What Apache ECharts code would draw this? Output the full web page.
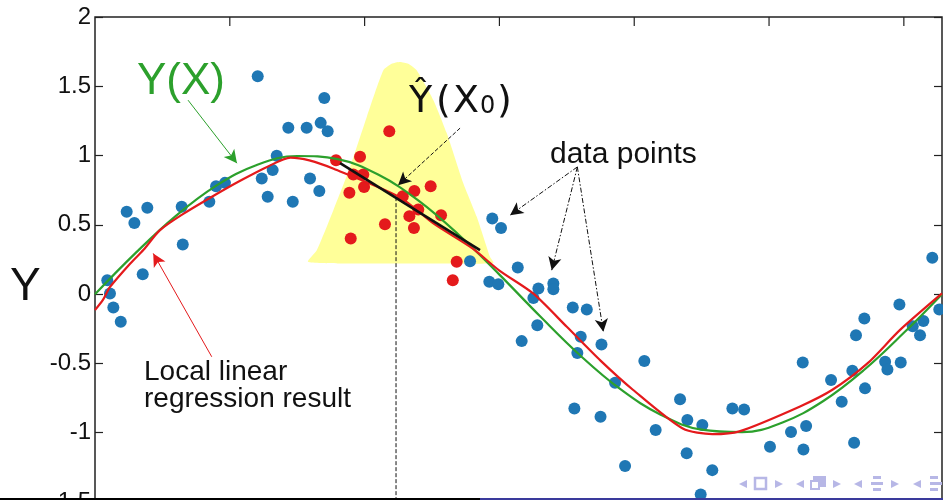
<!DOCTYPE html>
<html>
<head>
<meta charset="utf-8">
<style>html,body{margin:0;padding:0;background:#fff}#c{width:943px;height:500px}</style>
<script src="https://cdn.jsdelivr.net/npm/echarts/dist/echarts.min.js"></script>
</head>
<body>
<div id="c"></div>
<script>
// ---- data ----
const yTicks = [-1.5, -1, -0.5, 0, 0.5, 1, 1.5, 2];
const xTicks = [1, 2, 3, 4, 5, 6];

const bluePoints = [
  [0.091,0.101],[0.111,0.005],[0.136,-0.096],[0.191,-0.200],[0.235,0.594],[0.292,0.514],
  [0.354,0.144],[0.388,0.623],[0.643,0.630],[0.651,0.359],[0.848,0.666],[0.898,0.779],
  [0.964,0.803],[1.207,1.573],[1.237,0.835],[1.281,0.702],[1.318,0.895],[1.348,0.998],
  [1.434,1.200],[1.467,0.666],[1.570,1.200],[1.595,0.835],[1.664,0.745],[1.674,1.236],
  [1.701,1.416],[1.726,1.176],[2.782,0.238],[2.947,0.546],[3.012,0.478],[2.925,0.089],
  [2.992,0.072],[3.136,0.193],[3.289,0.041],[3.252,-0.027],[3.400,0.077],[3.400,0.036],
  [3.544,-0.096],[3.648,-0.110],[3.281,-0.224],[3.165,-0.339],[3.603,-0.308],[3.757,-0.363],
  [3.578,-0.424],[3.858,-0.640],[3.556,-0.825],[3.750,-0.885],[4.075,-0.483],[4.340,-0.758],
  [4.159,-0.981],[3.932,-1.241],[4.394,-0.909],[4.505,-0.945],[4.389,-1.149],[4.579,-1.270],
  [4.493,-1.445],[4.728,-0.825],[4.815,-0.832],[5.007,-1.102],[5.163,-0.994],[5.255,-1.121],
  [5.275,-0.952],[5.250,-0.493],[5.460,-0.620],[5.539,-0.777],[5.618,-0.553],[5.631,-1.073],
  [5.712,-0.680],[5.645,-0.296],[5.707,-0.175],[5.861,-0.488],[5.878,-0.543],[5.977,-0.493],
  [5.967,-0.074],[6.066,-0.231],[6.120,-0.296],[6.145,-0.193],[6.211,0.262],[6.263,-0.110]
];

const redPoints = [
  [1.788,0.967],[1.966,0.991],[2.183,1.176],[1.916,0.864],[1.990,0.864],[1.996,0.774],
  [1.887,0.731],[2.369,0.745],[2.490,0.779],[2.283,0.707],[2.398,0.611],[2.332,0.563],
  [2.567,0.570],[2.366,0.478],[2.151,0.505],[1.897,0.402],[2.683,0.233],[2.654,0.101]
];

// true function Y(X)
const greenX = [0,0.3,0.6,0.9,1.2,1.5,1.8,2.1,2.4,2.7,3.0,3.3,3.6,3.9,4.2,4.5,4.8,5.1,5.4,5.7,6.0,6.283];
const greenY = [0,0.296,0.565,0.783,0.932,0.997,0.974,0.863,0.675,0.427,0.141,-0.158,-0.443,-0.688,-0.872,-0.978,-0.996,-0.926,-0.773,-0.551,-0.279,0];

// local linear regression result
const redX = [0,0.06,0.11,0.26,0.36,0.48,0.64,0.88,1.08,1.28,1.45,1.59,1.77,2.26,2.51,2.80,3.00,3.25,3.50,3.75,3.99,4.36,4.58,4.78,5.23,5.47,5.73,5.97,6.283];
const redY = [-0.115,-0.04,0.05,0.22,0.32,0.46,0.57,0.71,0.82,0.92,0.985,0.965,0.905,0.70,0.51,0.33,0.17,0.005,-0.236,-0.48,-0.69,-0.97,-1.01,-0.99,-0.81,-0.69,-0.50,-0.26,0.005];

// kernel weight shape around X0
const kernelX = [1.580,1.645,1.768,1.892,2.016,2.139,2.200,2.263,2.324,2.386,2.510,2.609,2.732,2.832,2.930,2.955,2.70,2.40,2.10,1.80];
const kernelY = [0.233,0.317,0.606,0.918,1.279,1.616,1.663,1.676,1.663,1.616,1.400,1.162,0.801,0.558,0.269,0.224,0.222,0.222,0.222,0.222];

// local fit line at X0 and the X0 marker
const localFit = [[1.818,0.945],[2.856,0.318]];
const x0Line = [[2.233,0.70],[2.233,-1.6]];

// annotation arrows [from, to]
const arrowGreen = [[0.690,1.400],[1.053,0.945]];
const arrowRed = [[0.866,-0.452],[0.432,0.294]];
const arrowHat = [[2.708,1.198],[2.248,0.786]];
const arrowsData = [
  [[3.578,0.918],[3.079,0.570]],
  [[3.578,0.918],[3.388,0.173]],
  [[3.578,0.918],[3.771,-0.272]]
];

const zip = (xs, ys) => xs.map((x, i) => [x, ys[i]]);

const chart = echarts.init(document.getElementById('c'), null, {renderer: 'canvas'});
const FONT = '"Liberation Sans", Arial, sans-serif';
const axisCol = '#222';

function arrowLine(pair, style) {
  return [{coord: pair[0], lineStyle: style}, {coord: pair[1]}];
}

const navCol = '#b7b7e6';
function navTri(x, y, dir) {
  const s = 4;
  const pts = dir < 0 ? [[x + s, y - s], [x + s, y + s], [x - s, y]] : [[x - s, y - s], [x - s, y + s], [x + s, y]];
  return {type: 'polygon', shape: {points: pts}, style: {fill: navCol}, silent: true};
}

const option = {
  animation: false,
  backgroundColor: '#fff',
  grid: {left: 95, right: 1, top: 17, bottom: -2, containLabel: false, outerBoundsMode: 'none',
    show: true, borderColor: axisCol, borderWidth: 1.5, backgroundColor: 'transparent'},
  xAxis: [{
    type: 'value', min: 0, max: 6.283, interval: 1, position: 'top',
    axisLine: {show: false, onZero: false},
    axisTick: {show: false},
    axisLabel: {show: false}, splitLine: {show: false}
  }],
  yAxis: [{
    type: 'value', min: -1.5, max: 2, interval: 0.5, position: 'left',
    axisLine: {show: false, onZero: false},
    axisTick: {show: true, inside: true, length: 8, lineStyle: {color: axisCol, width: 1.2}},
    axisLabel: {show: true, margin: 4, fontSize: 24, fontFamily: FONT, color: '#111',
      formatter: v => (yTicks.indexOf(v) >= 0 ? String(v) : '')},
    splitLine: {show: false}
  }, {
    type: 'value', min: -1.5, max: 2, interval: 0.5, position: 'right',
    axisLine: {show: false, onZero: false},
    axisTick: {show: true, inside: true, length: 8, lineStyle: {color: axisCol, width: 1.2}},
    axisLabel: {show: false}, splitLine: {show: false}
  }],
  series: [
    {
      name: 'kernel', type: 'custom', z: 1, silent: true,
      data: [[kernelX[0], kernelY[0]]],
      renderItem: function (params, api) {
        const pts = kernelX.map((x, i) => api.coord([x, kernelY[i]]));
        return {type: 'polygon', shape: {points: pts, smooth: 0.2}, style: {fill: '#ffff99', stroke: 'none'}};
      }
    },
    {
      name: 'topTicks', type: 'custom', z: 6, silent: true, clip: false,
      data: xTicks.map(v => [v, 2]),
      renderItem: function (params, api) {
        const p = api.coord([api.value(0), api.value(1)]);
        return {type: 'line', shape: {x1: p[0], y1: p[1], x2: p[0], y2: p[1] + 9},
          style: {stroke: axisCol, lineWidth: 1.2}};
      }
    },
    {
      name: 'data', type: 'scatter', z: 2, symbolSize: 12, silent: true,
      itemStyle: {color: '#1f77b4', opacity: 1},
      data: bluePoints
    },
    {
      name: 'local', type: 'scatter', z: 2, symbolSize: 12, silent: true,
      itemStyle: {color: '#e41a1c', opacity: 1},
      data: redPoints
    },
    {
      name: 'Y(X)', type: 'line', z: 3, smooth: 0.4, symbol: 'none', silent: true,
      lineStyle: {color: '#2ca02c', width: 2.2},
      data: zip(greenX, greenY)
    },
    {
      name: 'fit', type: 'line', z: 4, smooth: 0.25, symbol: 'none', silent: true,
      lineStyle: {color: '#e41a1c', width: 2.2},
      data: zip(redX, redY)
    },
    {
      name: 'localFit', type: 'line', z: 5, symbol: 'none', silent: true,
      lineStyle: {color: '#111', width: 2.6},
      data: localFit
    },
    {
      name: 'x0', type: 'line', z: 5, symbol: 'none', silent: true,
      lineStyle: {color: '#111', width: 1, type: [4, 2]},
      data: x0Line,
      markLine: {
        silent: true, animation: false,
        symbol: ['none', 'arrow'], symbolSize: [10, 13],
        label: {show: false},
        emphasis: {disabled: true},
        data: [
          arrowLine(arrowGreen, {color: '#2ca02c', width: 1, type: 'solid'}),
          arrowLine(arrowRed, {color: '#e41a1c', width: 1, type: 'solid'}),
          arrowLine(arrowHat, {color: '#111', width: 1, type: [4, 2]}),
          arrowLine(arrowsData[0], {color: '#111', width: 1, type: [5, 2, 1.5, 2]}),
          arrowLine(arrowsData[1], {color: '#111', width: 1, type: [5, 2, 1.5, 2]}),
          arrowLine(arrowsData[2], {color: '#111', width: 1, type: [5, 2, 1.5, 2]})
        ]
      }
    }
  ],
  graphic: [
    {type: 'text', x: 10, y: 287, z: 100, style: {text: 'Y', font: '46px ' + FONT, fill: '#111', verticalAlign: 'middle'}},
    {type: 'text', x: 137, y: 82, z: 100, style: {text: 'Y(X)', font: '44px ' + FONT, fill: '#2ca02c', verticalAlign: 'middle'}},
    {type: 'text', x: 409, y: 102, z: 100, style: {text: 'Ŷ', font: '38px "DejaVu Sans"', fill: '#111', verticalAlign: 'middle'}},
    {type: 'text', x: 436, y: 102, z: 100, style: {text: '(', font: '38px "DejaVu Sans"', fill: '#111', verticalAlign: 'middle'}},
    {type: 'text', x: 453, y: 102, z: 100, style: {text: 'X', font: '38px "DejaVu Sans"', fill: '#111', verticalAlign: 'middle'}},
    {type: 'text', x: 480, y: 106.5, z: 100, style: {text: '0', font: '24px "DejaVu Sans"', fill: '#111', verticalAlign: 'middle'}},
    {type: 'text', x: 497, y: 102, z: 100, style: {text: ')', font: '38px "DejaVu Sans"', fill: '#111', verticalAlign: 'middle'}},
    {type: 'text', x: 550, y: 154.5, z: 100, style: {text: 'data points', font: '30px ' + FONT, fill: '#111', verticalAlign: 'middle'}},
    {type: 'text', x: 144, y: 372, z: 100, style: {text: 'Local linear', font: '28px ' + FONT, fill: '#111', verticalAlign: 'middle'}},
    {type: 'text', x: 144, y: 399, z: 100, style: {text: 'regression result', font: '28px ' + FONT, fill: '#111', verticalAlign: 'middle'}},
    // beamer footer line and navigation symbols
    {type: 'rect', shape: {x: 0, y: 498, width: 480, height: 2}, style: {fill: '#000'}, silent: true, z: 100},
    {type: 'rect', shape: {x: 480, y: 498, width: 463, height: 2}, style: {fill: '#3a3a9c'}, silent: true, z: 100},
    navTri(743, 484, -1),
    {type: 'rect', shape: {x: 755, y: 478, width: 11, height: 11}, style: {fill: 'none', stroke: navCol, lineWidth: 2.5}, silent: true},
    navTri(779, 484, 1),
    navTri(800, 484, -1),
    {type: 'rect', shape: {x: 813, y: 476, width: 13, height: 11}, style: {fill: navCol}, silent: true},
    {type: 'rect', shape: {x: 811, y: 481, width: 8, height: 8}, style: {fill: '#fff', stroke: navCol, lineWidth: 2}, silent: true},
    navTri(837, 484, 1),
    navTri(858, 484, -1),
    {type: 'rect', shape: {x: 873, y: 476, width: 8, height: 3}, style: {fill: navCol}, silent: true},
    {type: 'rect', shape: {x: 871, y: 482, width: 12, height: 3}, style: {fill: navCol}, silent: true},
    {type: 'rect', shape: {x: 873, y: 488, width: 8, height: 3}, style: {fill: navCol}, silent: true},
    navTri(895, 484, 1),
    navTri(917, 484, -1),
    {type: 'rect', shape: {x: 930, y: 476, width: 8, height: 3}, style: {fill: navCol}, silent: true},
    {type: 'rect', shape: {x: 930, y: 482, width: 12, height: 3}, style: {fill: navCol}, silent: true},
    {type: 'rect', shape: {x: 930, y: 488, width: 8, height: 3}, style: {fill: navCol}, silent: true}
  ]
};
chart.setOption(option);
</script>
</body>
</html>
